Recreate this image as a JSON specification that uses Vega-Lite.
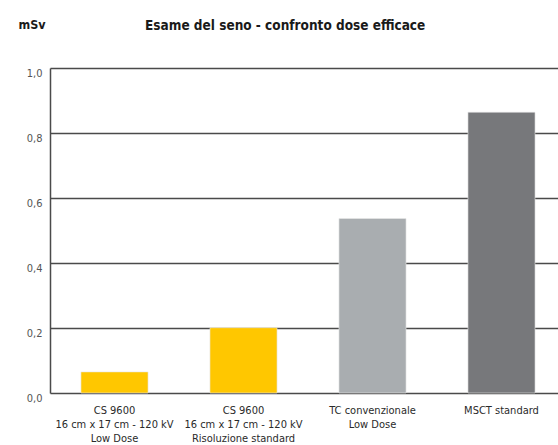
{
  "$schema": "https://vega.github.io/schema/vega-lite/v6.json",
  "autosize": "none",
  "padding": {"left": 50, "top": 68, "right": 0, "bottom": 52},
  "width": 508,
  "height": 325,
  "background": "white",
  "title": {
    "text": "Esame del seno - confronto dose efficace",
    "anchor": "start",
    "dx": 127,
    "offset": -25,
    "baseline": "alphabetic",
    "font": "DejaVu Sans Condensed",
    "fontSize": 13.5,
    "fontWeight": "bold",
    "color": "#1a1a1a"
  },
  "data": {
    "values": [
      {"exam": "CS 9600|16 cm x 17 cm - 120 kV|Low Dose", "dose": 0.065, "kind": "cs"},
      {"exam": "CS 9600|16 cm x 17 cm - 120 kV|Risoluzione standard", "dose": 0.201, "kind": "cs"},
      {"exam": "TC convenzionale|Low Dose", "dose": 0.537, "kind": "tc"},
      {"exam": "MSCT standard", "dose": 0.864, "kind": "msct"}
    ]
  },
  "mark": {"type": "bar", "stroke": "#e8e8e8", "strokeWidth": 0.6},
  "encoding": {
    "x": {
      "field": "exam",
      "type": "nominal",
      "sort": null,
      "scale": {"range": [0, 516], "paddingInner": 0.48, "paddingOuter": 0.24},
      "axis": {
        "title": null,
        "labelAngle": 0,
        "labelExpr": "split(datum.label, '|')",
        "labelFont": "DejaVu Sans Condensed",
        "labelFontSize": 11,
        "labelColor": "#2a2a2a",
        "labelLineHeight": 14,
        "labelPadding": 11,
        "labelBaseline": "top",
        "ticks": false,
        "domain": false,
        "labelLimit": 0
      }
    },
    "y": {
      "field": "dose",
      "type": "quantitative",
      "scale": {"domain": [0, 1], "nice": false},
      "axis": {
        "values": [0, 0.2, 0.4, 0.6, 0.8, 1.0],
        "labelExpr": "replace(format(datum.value, '.1f'), '.', ',')",
        "labelFont": "DejaVu Sans Condensed",
        "labelFontSize": 11,
        "labelColor": "#555555",
        "labelPadding": 8,
        "labelOffset": 5,
        "ticks": false,
        "domainColor": "#4a4a4a",
        "domainWidth": 1.5,
        "grid": true,
        "gridColor": "#4a4a4a",
        "gridWidth": 1.5,
        "gridOpacity": 1,
        "title": "mSv",
        "titleAngle": 0,
        "titleAlign": "left",
        "titleBaseline": "alphabetic",
        "titleX": -32,
        "titleY": -40,
        "titleFont": "DejaVu Sans Condensed",
        "titleFontSize": 12.5,
        "titleFontWeight": "bold",
        "titleColor": "#1a1a1a"
      }
    },
    "color": {
      "field": "kind",
      "type": "nominal",
      "scale": {"domain": ["cs", "tc", "msct"], "range": ["#FFC700", "#A9ADB0", "#77787B"]},
      "legend": null
    }
  },
  "config": {"view": {"stroke": null}}
}
